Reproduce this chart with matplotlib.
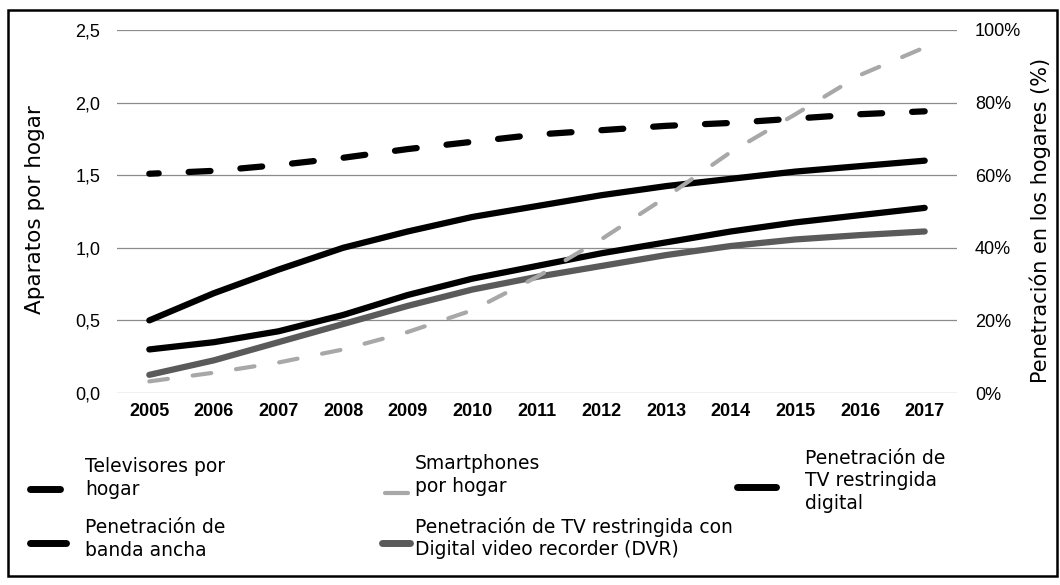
import matplotlib.pyplot as plt
import numpy as np
from matplotlib.lines import Line2D
from matplotlib.patches import Rectangle

years = ['2005', '2006', '2007', '2008', '2009', '2010', '2011',
         '2012', '2013', '2014', '2015', '2016', '2017']
# aparatos por hogar (eje izquierdo)
televisores = [1.51, 1.53, 1.57, 1.62, 1.68, 1.73, 1.78, 1.81, 1.84, 1.86, 1.89, 1.92, 1.94]
smartphones = [0.08, 0.14, 0.21, 0.30, 0.42, 0.57, 0.80, 1.06, 1.35, 1.66, 1.92, 2.19, 2.38]
# penetracion en % (eje derecho)
banda_ancha = [20, 27.5, 34, 40, 44.5, 48.5, 51.5, 54.5, 57, 59, 61, 62.5, 64]
tv_digital = [12, 14, 17, 21.5, 27, 31.5, 35, 38.5, 41.5, 44.5, 47, 49, 51]
tv_dvr = [5, 9, 14, 19, 24, 28.5, 32, 35, 38, 40.5, 42.3, 43.5, 44.5]

left_ticks = [0, 0.5, 1.0, 1.5, 2.0, 2.5]
left_labels = ['0,0', '0,5', '1,0', '1,5', '2,0', '2,5']
right_ticks = [0, 20, 40, 60, 80, 100]
right_labels = ['0%', '20%', '40%', '60%', '80%', '100%']

W, H = 1060, 585
fig = plt.figure(figsize=(W / 100, H / 100), dpi=100)
ax = fig.add_axes([117 / W, 1 - 393 / H, 840 / W, 363 / H])
ax2 = ax.twinx()

x = np.arange(len(years))
tick_font = ['Liberation Sans', 'DejaVu Sans']
text_font = ['DejaVu Sans']

ax.set_xlim(-0.5, len(years) - 0.5)
ax.set_ylim(0, 2.5)
ax2.set_ylim(0, 100)
ax.grid(axis='y', color='#8c8c8c', lw=0.9)
ax.set_axisbelow(True)
for a in (ax, ax2):
    for s in a.spines.values():
        s.set_visible(False)

ax.set_yticks(left_ticks)
ax.set_yticklabels(left_labels, fontfamily=tick_font, fontsize=13)
ax2.set_yticks(right_ticks)
ax2.set_yticklabels(right_labels, fontfamily=tick_font, fontsize=13)
ax.set_xticks(x)
ax.set_xticklabels(years, fontfamily=tick_font, fontsize=13, fontweight='bold')
ax.tick_params(axis='y', length=0, pad=12)
ax2.tick_params(axis='y', length=0, pad=13)
ax.tick_params(axis='x', length=0, pad=7)

### series ###
ax.plot(x, televisores, color='black', lw=4.5, linestyle=(2, (3.5, 4.8)),
        dash_capstyle='round', zorder=3)
ax2.plot(x, banda_ancha, color='black', lw=4.5, solid_capstyle='round')
ax2.plot(x, tv_digital, color='black', lw=4.5, solid_capstyle='round')
ax2.plot(x, tv_dvr, color='#5a5a5a', lw=4.5, solid_capstyle='round')
ax2.plot(x, np.array(smartphones) * 40, color='#a8a8a8', lw=3,
         linestyle=(0, (4.5, 6)), dash_capstyle='round')

### axis titles ###
fig.text(35 / W, 1 - 210 / H, 'Aparatos por hogar', rotation=90, ha='center',
         va='center', fontsize=15.5, family=text_font)
fig.text(1040 / W, 1 - 220 / H, 'Penetración en los hogares (%)', rotation=90,
         ha='center', va='center', fontsize=15, family=text_font)

### legend (drawn by hand) ###
def leg_item(x0, x1, yl, color, lw, tx, ty, label):
    fig.add_artist(Line2D([x0 / W, x1 / W], [1 - yl / H, 1 - yl / H],
                          color=color, lw=lw, solid_capstyle='round',
                          transform=fig.transFigure))
    fig.text(tx / W, 1 - ty / H, label, ha='left', va='center', fontsize=13.5,
             family=text_font, linespacing=1.25)

leg_item(30, 60, 489, 'black', 5, 85, 478, 'Televisores por\nhogar')
leg_item(30, 66, 543, 'black', 5, 85, 539, 'Penetración de\nbanda ancha')
leg_item(385, 408, 493, '#a8a8a8', 3, 415, 475, 'Smartphones\npor hogar')
leg_item(382, 410, 543, '#5a5a5a', 5, 415, 538,
         'Penetración de TV restringida con\nDigital video recorder (DVR)')
leg_item(737, 776, 487, 'black', 5, 805, 481,
         'Penetración de\nTV restringida\ndigital')

fig.add_artist(Rectangle((8 / W, 1 - 576 / H), 1049 / W, 566 / H,
                         transform=fig.transFigure, fill=False, lw=1.8,
                         ec='black'))

plt.savefig('out.png', dpi=100)
